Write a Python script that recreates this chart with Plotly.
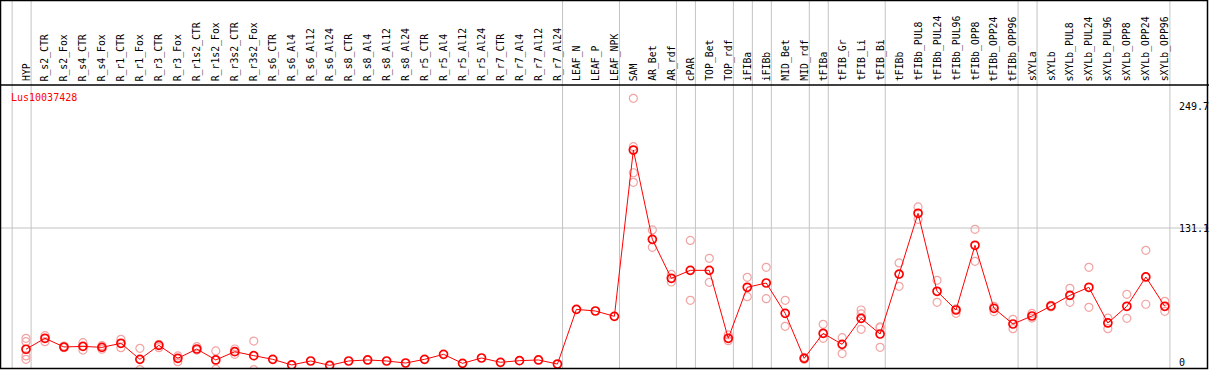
import plotly.graph_objects as go

title = "Lus10037428"

labels = ["HYP", "R_s2_CTR", "R_s2_Fox", "R_s4_CTR", "R_s4_Fox", "R_r1_CTR", "R_r1_Fox",
          "R_r3_CTR", "R_r3_Fox", "R_r1s2_CTR", "R_r1s2_Fox", "R_r3s2_CTR", "R_r3s2_Fox",
          "R_s6_CTR", "R_s6_Al4", "R_s6_Al12", "R_s6_Al24", "R_s8_CTR", "R_s8_Al4", "R_s8_Al12",
          "R_s8_Al24", "R_r5_CTR", "R_r5_Al4", "R_r5_Al12", "R_r5_Al24", "R_r7_CTR", "R_r7_Al4",
          "R_r7_Al12", "R_r7_Al24", "LEAF_N", "LEAF_P", "LEAF_NPK", "SAM", "AR_Bet", "AR_rdf",
          "cPAR", "TOP_Bet", "TOP_rdf", "iFIBa", "iFIBb", "MID_Bet", "MID_rdf", "tFIBa",
          "tFIB_Gr", "tFIB_Li", "tFIB_Bi", "tFIBb", "tFIBb_PUL8", "tFIBb_PUL24", "tFIBb_PUL96",
          "tFIBb_OPP8", "tFIBb_OPP24", "tFIBb_OPP96", "sXYLa", "sXYLb", "sXYLb_PUL8",
          "sXYLb_PUL24", "sXYLb_PUL96", "sXYLb_OPP8", "sXYLb_OPP24", "sXYLb_OPP96"]

mean_values = [12.5, 23.2, 14.7, 15.3, 14.3, 18.3, 2.6, 16.3, 3.6, 12.7, 2.0, 10.1, 6.2,
               2.6, -2.9, 1.0, -3.3, 1.0, 2.0, 1.0, -1.0, 2.6, 7.5, -1.3, 3.9, -0.3, 1.3,
               2.0, -2.0, 51.5, 49.9, 44.7, 207.4, 120.0, 81.9, 89.7, 89.7, 23.2, 73.1,
               77.3, 47.6, 3.6, 28.0, 17.3, 42.7, 27.4, 86.0, 145.5, 69.2, 50.9, 114.2,
               52.5, 37.2, 45.0, 54.8, 65.2, 73.1, 38.2, 54.5, 83.2, 54.5]

N = None
rep_a = [23.2, 25.8, 15.5, 18.9, 16.0, 22.2, 13.4, 17.3, 5.9, 15.0, 10.8, 12.7, 20.5,
         N, N, N, N, N, N, N, N, N, N, N, N, N, N, N, N, N, N, N,
         258.0, 129.2, 85.8, 119.0, 101.4, 26.4, 82.9, 92.6, 60.3, 4.5, 36.9, 23.8, 50.9,
         33.5, 96.9, 151.7, 79.9, 47.6, 129.8, 54.5, 41.8, 47.5, 55.5, 72.1, 92.6, 43.0,
         66.2, 109.3, 59.4]
rep_b = [2.6, 19.9, 14.0, 11.7, 12.5, 14.0, -7.5, 14.0, 0.3, 11.7, -7.0, 7.5, -7.5,
         N, N, N, N, N, N, N, N, N, N, N, N, N, N, N, N, N, N, N,
         210.7, 112.2, 78.3, 60.3, 78.0, 20.9, 63.9, 62.0, 34.9, 2.7, 23.2, 8.2, 32.0,
         14.4, 74.0, 139.6, 58.4, 52.0, 98.5, 49.3, 32.6, 43.0, 54.0, 58.4, 53.5, 32.6,
         42.7, 56.5, 49.6]
rep_c = [19.9, N, N, N, N, N, N, N, N, N, N, N, N,
         N, N, N, N, N, N, N, N, N, N, N, N, N, N, N, N, N, N, N,
         185.2, N, N, N, N, N, N, N, N, N, N, N, 47.0,
         34.5, N, N, N, N, N, N, N, N, N, N, N, N,
         N, N, N]
rep_d = [5.9, N, N, N, N, N, N, N, N, N, N, N, N,
         N, N, N, N, N, N, N, N, N, N, N, N, N, N, N, N, N, N, N,
         175.8, N, N, N, N, N, N, N, N, N, N, N, N,
         N, N, N, N, N, N, N, N, N, N, N, N, N,
         N, N, N]

group_breaks = [-1, 0, 28, 31, 34, 35, 37, 38, 39, 41, 42, 45, 52, 53, 60]
ytick_vals = [249.7, 131.1, 0]
ytick_text = ["249.7", "131.1", "0"]
hgrid_vals = [131.1]

W, H = 1209, 370
TOP = 85          # px: top of data panel
BOT = 1           # px below panel
PX0 = 26.0        # px position of first category
STEP = 18.98      # px per category
Y0PX = 362.0      # px position of value 0
YK = 1.022        # px per unit

ph = H - TOP - BOT
x_lo = (0 - PX0) / STEP
x_hi = (W - PX0) / STEP
y_hi = (Y0PX - TOP) / YK
y_lo = (Y0PX - (H - BOT)) / YK

MONO = "DejaVu Sans Mono"
xs = list(range(len(labels)))

fig = go.Figure()
pink = "#f2a3a3"
for reps in (rep_a, rep_b, rep_c, rep_d):
    fig.add_trace(go.Scatter(x=xs, y=reps, mode="markers",
                             marker=dict(symbol="circle-open", size=8, color=pink,
                                         line=dict(width=1.2, color=pink)),
                             hoverinfo="skip", showlegend=False))
fig.add_trace(go.Scatter(x=xs, y=mean_values, mode="lines+markers",
                         line=dict(color="#ff0000", width=1),
                         marker=dict(symbol="circle-open", size=8, color="#ff0000",
                                     line=dict(width=1.7, color="#ff0000")),
                         showlegend=False))

shapes = []
def px2paper_y(py):
    return (H - BOT - py) / ph

for g in group_breaks:
    xv = g + 0.27
    shapes.append(dict(type="line", xref="x", yref="paper", x0=xv, x1=xv,
                       y0=0, y1=px2paper_y(0), line=dict(color="#c4c4c4", width=1),
                       layer="below"))
for hv in hgrid_vals:
    shapes.append(dict(type="line", xref="paper", yref="y", x0=0, x1=1, y0=hv, y1=hv,
                       line=dict(color="#c4c4c4", width=1), layer="below"))
# borders
shapes.append(dict(type="line", xref="paper", yref="paper", x0=0, x1=1,
                   y0=1, y1=1, line=dict(color="black", width=1.5)))
shapes.append(dict(type="rect", xref="paper", yref="paper", x0=0.5 / W, x1=1207.5 / W,
                   y0=px2paper_y(368.5), y1=px2paper_y(0.5),
                   line=dict(color="black", width=1.5)))

annotations = []
for i, lab in enumerate(labels):
    annotations.append(dict(x=i, xref="x", y=px2paper_y(83), yref="paper",
                            text=lab, textangle=-90, showarrow=False,
                            xanchor="center", yanchor="bottom",
                            font=dict(family=MONO, size=9.8, color="black")))
for v, t in zip(ytick_vals, ytick_text):
    annotations.append(dict(x=1177 / W, xref="paper", y=v, yref="y", text=t,
                            showarrow=False, xanchor="left", yanchor="middle",
                            font=dict(family=MONO, size=10, color="black")))
annotations.append(dict(x=9 / W, xref="paper", y=px2paper_y(97), yref="paper",
                        text=title, showarrow=False, xanchor="left", yanchor="middle",
                        font=dict(family=MONO, size=10, color="#ff0000")))

fig.update_layout(
    width=W, height=H,
    margin=dict(l=0, r=0, t=TOP, b=BOT, pad=0),
    paper_bgcolor="white", plot_bgcolor="white",
    xaxis=dict(range=[x_lo, x_hi], visible=False, showgrid=False, zeroline=False),
    yaxis=dict(range=[y_lo, y_hi], visible=False, showgrid=False, zeroline=False),
    shapes=shapes, annotations=annotations, showlegend=False,
)
fig.write_html("out.html", config={"displayModeBar": False},
               post_script="document.body.style.margin='0';document.body.style.overflow='hidden';")
